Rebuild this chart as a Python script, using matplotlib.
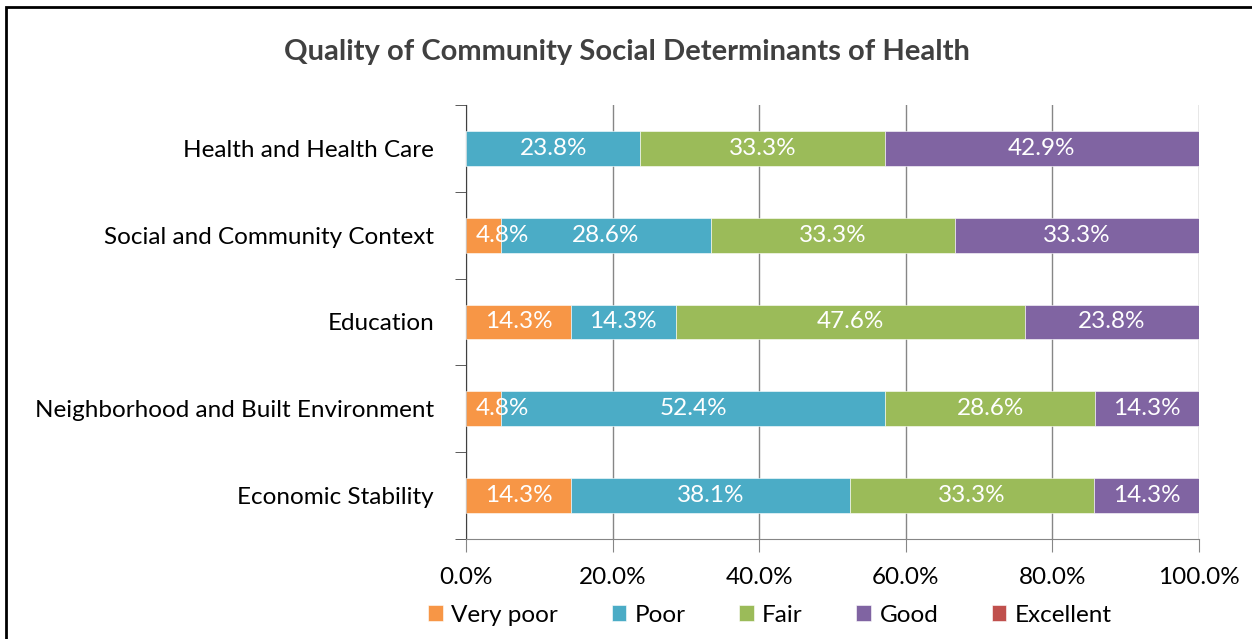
import matplotlib
matplotlib.use("Agg")
import matplotlib.pyplot as plt
from matplotlib.patches import Rectangle
import numpy as np

categories = ["Health and Health Care", "Social and Community Context", "Education",
              "Neighborhood and Built Environment", "Economic Stability"]
series_names = ["Very poor", "Poor", "Fair", "Good", "Excellent"]
very_poor = [0.0, 4.8, 14.3, 4.8, 14.3]
poor = [23.8, 28.6, 14.3, 52.4, 38.1]
fair = [33.3, 33.3, 47.6, 28.6, 33.3]
good = [42.9, 33.3, 23.8, 14.3, 14.3]
excellent = [0.0, 0.0, 0.0, 0.0, 0.0]
x_ticks = [0, 20, 40, 60, 80, 100]
x_tick_labels = ["0.0%", "20.0%", "40.0%", "60.0%", "80.0%", "100.0%"]
title = "Quality of Community Social Determinants of Health"

colors = ["#F79646", "#4BACC6", "#9BBB59", "#8064A2", "#C0504D"]

plt.rcParams['font.family'] = ['Lato', 'DejaVu Sans']
FS = 17.5

W, H = 1252, 639
fig = plt.figure(figsize=(W / 100, H / 100), dpi=100)
fig.patch.set_facecolor("white")

# outer chart border (cropped at right/bottom)
fig.add_artist(Rectangle((6 / W, -0.1), 1.2, 1 - 7 / H + 0.1, transform=fig.transFigure,
                         fill=False, edgecolor="black", linewidth=2))

ax = fig.add_axes([466 / W, 1 - 539 / H, (1199 - 466) / W, (539 - 105) / H])

y = np.arange(len(categories))
left = np.zeros(len(categories))
for name, vals, c in zip(series_names, [very_poor, poor, fair, good, excellent], colors):
    vals = np.array(vals)
    ax.barh(y, vals, left=left, height=0.4, color=c, label=name, zorder=3,
            edgecolor="white", linewidth=0.4)
    for yi, l, v in zip(y, left, vals):
        if v <= 0:
            continue
        txt = f"{v:.1f}%"
        if l == 0 and v < 8:
            # Excel keeps the label inside the plot area
            ax.annotate(txt, (0, yi), xytext=(7, 0), textcoords="offset points",
                        ha="left", va="center", color="white", fontsize=FS, zorder=4)
        else:
            ax.text(l + v / 2, yi, txt, ha="center", va="center",
                    color="white", fontsize=FS, zorder=4)
    left = left + vals

ax.set_xlim(0, 100)
ax.set_ylim(len(categories) - 0.5, -0.5)

ax.set_xticks(x_ticks)
ax.set_xticklabels(x_tick_labels, fontsize=FS)
ax.tick_params(axis="x", direction="out", length=9, color="#868686", pad=11)
ax.set_yticks(y)
ax.set_yticklabels(categories, fontsize=FS)
ax.tick_params(axis="y", which="major", length=0, pad=23)
ax.set_yticks(np.arange(-0.5, len(categories) + 0.5, 1), minor=True)
ax.tick_params(axis="y", which="minor", direction="out", length=8, color="#404040")

ax.grid(axis="x", color="#868686", linewidth=1, zorder=0)
for s in ["top", "right"]:
    ax.spines[s].set_visible(False)
ax.spines["left"].set_color("#404040")
ax.spines["bottom"].set_color("#868686")
ax.set_facecolor("white")

fig.text(627 / W, 1 - 52 / H, title, ha="center", va="center",
         fontsize=21, fontweight="bold", color="#404040")

handles, labels = ax.get_legend_handles_labels()
leg = fig.legend(handles, labels, loc="center", bbox_to_anchor=(770 / W, 1 - 615 / H),
                 ncol=5, frameon=False, fontsize=FS, handlelength=0.6, handleheight=0.6,
                 handletextpad=0.35, columnspacing=2.2)

fig.savefig("out.png", dpi=100)
